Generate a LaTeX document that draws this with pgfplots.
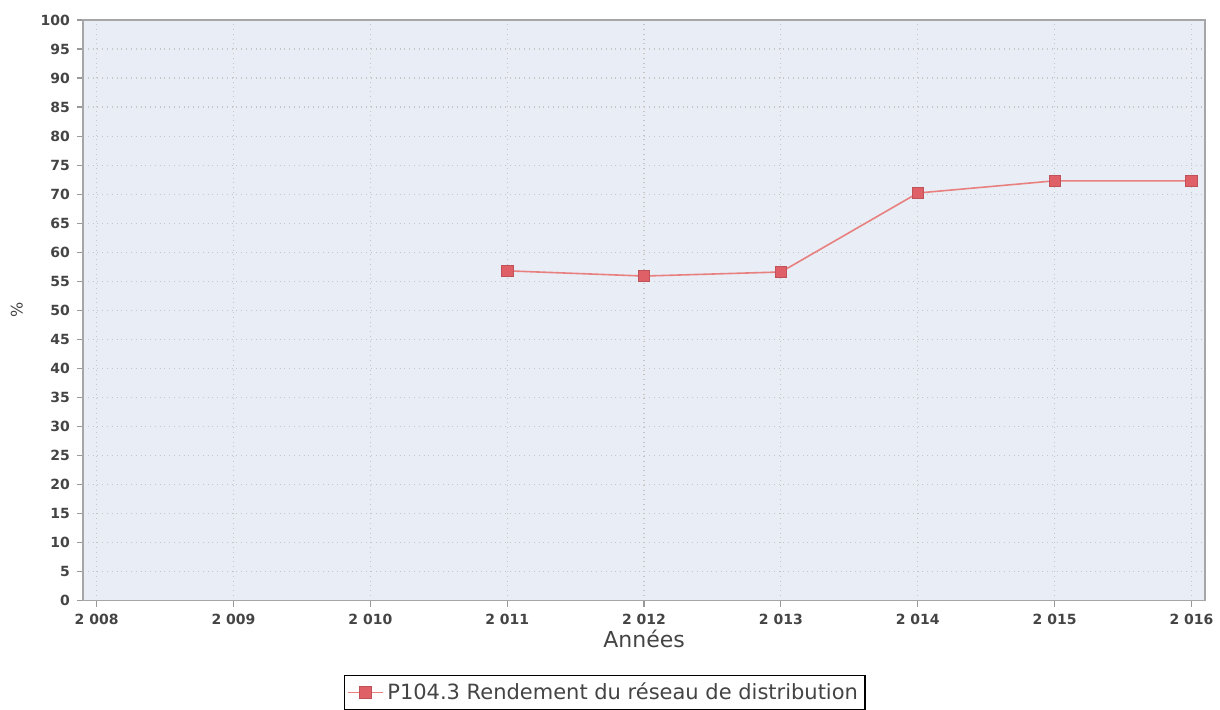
\documentclass[border=0pt]{standalone}
\usepackage{pgfplots}
\pgfplotsset{compat=1.18}
\usepackage{fontspec}
\setmainfont{DejaVu Sans}
\definecolor{plotbg}{HTML}{E9EDF5}
\definecolor{serie}{HTML}{E88080}
\definecolor{mark}{HTML}{E06068}
\definecolor{txt}{HTML}{444444}
\begin{document}
\begin{tikzpicture}
\begin{axis}[
    scale only axis,
    width=561.5pt, height=290.5pt,
    xmin=2007.9, xmax=2016.1,
    ymin=0, ymax=100,
    xtick={2008,...,2016},
    xticklabels={2 008,2 009,2 010,2 011,2 012,2 013,2 014,2 015,2 016},
    ytick={0,5,...,100},
    /pgf/number format/assume math mode=true,
    tick label style={font=\fontsize{7}{8}\selectfont\bfseries, text=txt},
    axis background/.style={fill=plotbg},
    axis line style={draw=gray!70, line width=0.8pt},
    tick style={draw=gray!80, line width=0.6pt},
    tick align=outside,
    major tick length=3pt,
    xtick pos=bottom, ytick pos=left,
    grid=major,
    major grid style={draw=gray!45, dotted, line width=0.6pt},
    xlabel={Années},
    ylabel={\%},
    xlabel style={font=\fontsize{11}{12}\selectfont, text=txt, yshift=4pt},
    ylabel style={font=\fontsize{8}{9}\selectfont, text=txt, yshift=2pt},
    legend style={at={(0.465,-0.128)}, anchor=north, draw=black, line width=0.6pt,
        font=\fontsize{10.5}{12}\selectfont, text=txt, inner sep=1.5pt},
    legend cell align=left,
]
\addplot[color=serie, line width=0.8pt, mark=square*,
    mark options={fill=mark, draw=mark!85!black, line width=0.4pt}, mark size=2.9pt]
    coordinates {(2011,56.8) (2012,55.9) (2013,56.6) (2014,70.2) (2015,72.3) (2016,72.3)};
\addlegendentry{P104.3 Rendement du réseau de distribution}
\end{axis}
\path[use as bounding box] ([xshift=-41.5pt,yshift=-53.5pt]current axis.south west)
    rectangle ([xshift=7pt,yshift=10pt]current axis.north east);
\end{tikzpicture}
\end{document}
